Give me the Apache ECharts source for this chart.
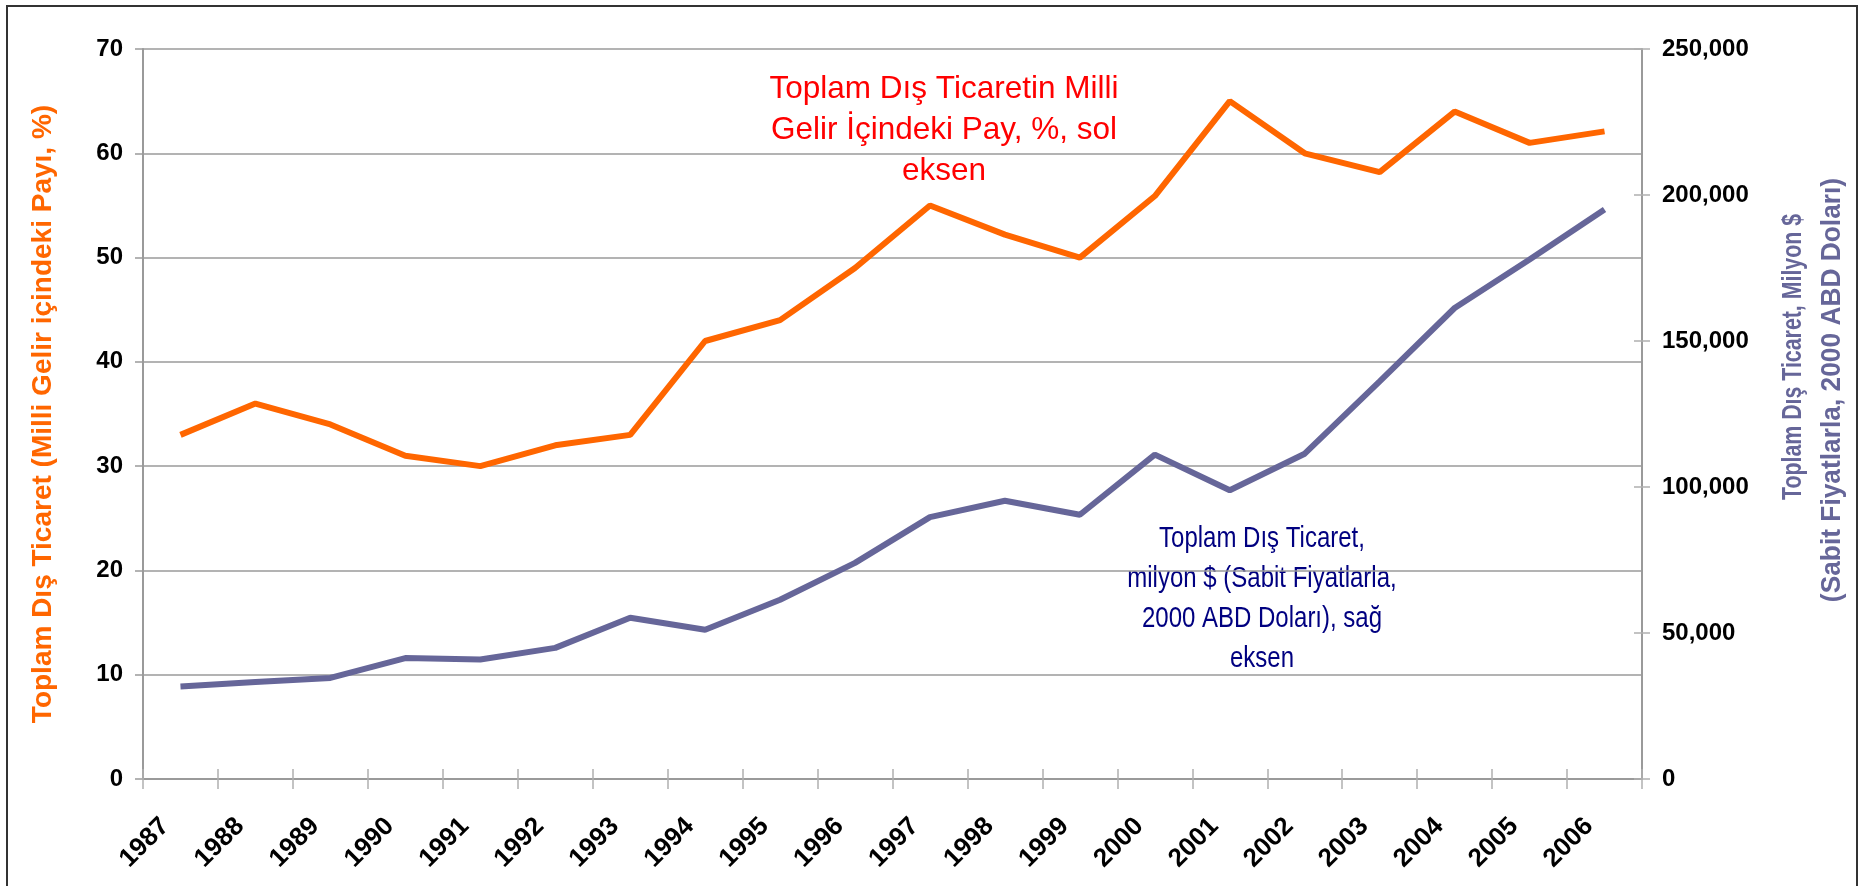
<!DOCTYPE html>
<html>
<head>
<meta charset="utf-8">
<script src="https://cdn.jsdelivr.net/npm/echarts@6/dist/echarts.min.js"></script>
<style>
html, body { margin: 0; padding: 0; background: #fff; }
#chart { width: 1859px; height: 886px; }
</style>
</head>
<body>
<div id="chart"></div>
<script>
// yillar
var years = ['1987', '1988', '1989', '1990', '1991', '1992', '1993', '1994', '1995', '1996',
	'1997', '1998', '1999', '2000', '2001', '2002', '2003', '2004', '2005', '2006'];
// dis ticaretin milli gelir icindeki payi, % (sol eksen)
var payPct = [33, 36, 34, 31, 30, 32, 33, 42, 44, 49, 55, 52.2, 50, 55.9, 65, 60, 58.2, 64, 61, 62.1];
// toplam dis ticaret, milyon $ (sag eksen)
var ticaretMilyon = [31700, 33200, 34600, 41400, 40900, 44900, 55200, 51100, 61400, 74000,
	89700, 95300, 90500, 111100, 98900, 111400, 136200, 161300, 177900, 195000];

var sansFont = '"Liberation Sans", Arial, sans-serif';
var gridColor = '#9a9a9a';

var chart = echarts.init(document.getElementById('chart'));

var option = {
	backgroundColor: '#ffffff',
	animation: false,
	grid: {
		left: 143,
		right: 217,
		top: 49,
		bottom: 107,
		containLabel: false
	},
	xAxis: [{
		type: 'category',
		data: years,
		position: 'bottom',
		boundaryGap: true,
		axisLine: { show: true, lineStyle: { color: gridColor, width: 2 } },
		axisTick: { show: true, length: 10, lineStyle: { color: '#b0b0b0', width: 1.5 } },
		axisLabel: {
			interval: 0,
			rotate: 45,
			margin: 28,
			color: '#000',
			fontFamily: sansFont,
			fontWeight: 'bold',
			fontSize: 26,
			// sondaki bosluklar etiketi biraz sola kaydirir
			formatter: function (v) { return v + '   '; }
		},
		splitLine: { show: false }
	}, {
		// ic taraftaki tikler icin
		type: 'category',
		data: years,
		position: 'bottom',
		boundaryGap: true,
		axisLine: { show: false },
		axisTick: { show: true, inside: true, length: 10, lineStyle: { color: '#b0b0b0', width: 1.5 } },
		axisLabel: { show: false },
		splitLine: { show: false }
	}],
	yAxis: [{
		type: 'value',
		position: 'left',
		min: 0,
		max: 70,
		interval: 10,
		name: 'Toplam Dış Ticaret (Milli Gelir içindeki Payı, %)',
		nameLocation: 'middle',
		nameRotate: 90,
		nameGap: 86,
		nameTextStyle: {
			color: '#ff6600',
			fontFamily: sansFont,
			fontWeight: 'bold',
			fontSize: 28
		},
		axisLine: { show: true, lineStyle: { color: gridColor, width: 2 } },
		axisTick: { show: true, length: 8, lineStyle: { color: gridColor, width: 1.5 } },
		axisLabel: {
			margin: 20,
			color: '#000',
			fontFamily: sansFont,
			fontWeight: 'bold',
			fontSize: 24
		},
		splitLine: { show: true, lineStyle: { color: gridColor, width: 1.5 } }
	}, {
		type: 'value',
		position: 'right',
		min: 0,
		max: 250000,
		interval: 50000,
		axisLine: { show: true, lineStyle: { color: gridColor, width: 2 } },
		axisTick: { show: true, length: 8, lineStyle: { color: '#b0b0b0', width: 1.5 } },
		axisLabel: {
			margin: 20,
			color: '#000',
			fontFamily: sansFont,
			fontWeight: 'bold',
			fontSize: 24,
			formatter: function (v) {
				return String(v).replace(/\B(?=(\d{3})+(?!\d))/g, ',');
			}
		},
		splitLine: { show: false }
	}, {
		type: 'value',
		position: 'right',
		min: 0,
		max: 250000,
		interval: 50000,
		axisLine: { show: false },
		axisTick: { show: true, inside: true, length: 8, lineStyle: { color: '#b0b0b0', width: 1.5 } },
		axisLabel: { show: false },
		splitLine: { show: false }
	}],
	series: [{
		name: 'Pay',
		type: 'line',
		xAxisIndex: 0,
		yAxisIndex: 0,
		data: payPct,
		symbol: 'none',
		lineStyle: { color: '#ff6600', width: 6 },
		z: 3
	}, {
		name: 'Ticaret',
		type: 'line',
		xAxisIndex: 0,
		yAxisIndex: 1,
		data: ticaretMilyon,
		symbol: 'none',
		lineStyle: { color: '#666699', width: 6 },
		z: 4
	}],
	graphic: [{
		type: 'rect',
		shape: { x: 7, y: 6, width: 1850, height: 900 },
		style: { fill: 'none', stroke: '#333', lineWidth: 2 },
		silent: true
	}, {
		type: 'text',
		x: 944,
		y: 130,
		style: {
			text: 'Toplam Dış Ticaretin Milli\nGelir İçindeki Pay, %, sol\neksen',
			fill: '#ff0000',
			fontFamily: sansFont,
			fontSize: 31.5,
			lineHeight: 41,
			align: 'center',
			verticalAlign: 'middle'
		}
	}, {
		// dar yazi: yatayda sikistirilmis
		type: 'text',
		x: 1262,
		y: 599,
		scaleX: 0.8,
		style: {
			text: 'Toplam Dış Ticaret,\nmilyon $ (Sabit Fiyatlarla,\n2000 ABD Doları), sağ\neksen',
			fill: '#000080',
			fontFamily: sansFont,
			fontSize: 30,
			lineHeight: 40,
			align: 'center',
			verticalAlign: 'middle'
		}
	}, {
		type: 'text',
		x: 1794,
		y: 357,
		rotation: Math.PI / 2,
		scaleX: 0.79,
		style: {
			text: 'Toplam Dış Ticaret, Milyon $',
			fill: '#666699',
			fontFamily: sansFont,
			fontWeight: 'bold',
			fontSize: 27,
			align: 'center',
			verticalAlign: 'middle'
		}
	}, {
		type: 'text',
		x: 1833,
		y: 390,
		rotation: Math.PI / 2,
		scaleX: 0.975,
		style: {
			text: '(Sabit Fiyatlarla, 2000 ABD Doları)',
			fill: '#666699',
			fontFamily: sansFont,
			fontWeight: 'bold',
			fontSize: 27,
			align: 'center',
			verticalAlign: 'middle'
		}
	}]
};

chart.setOption(option);
</script>
</body>
</html>
